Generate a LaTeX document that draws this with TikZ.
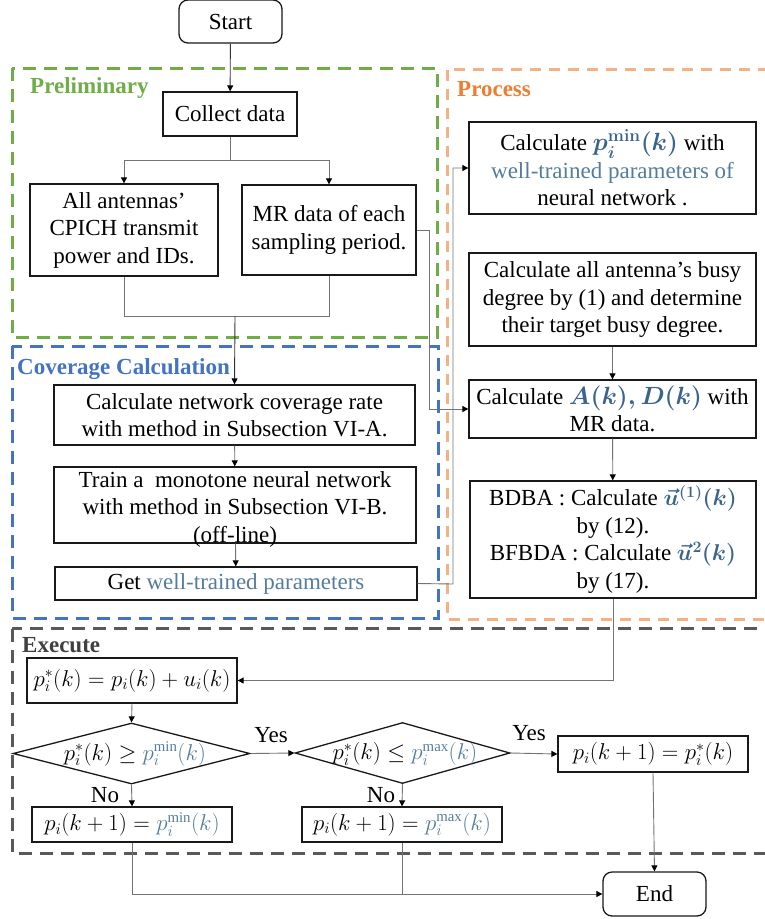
\documentclass[tikz,border=0pt]{standalone}
\usepackage{amsmath,amssymb}
\usepackage{graphicx}
\usepackage{fontspec}
\setmainfont{Liberation Serif}
\usepackage{bm}
\usetikzlibrary{arrows.meta,shapes.geometric,calc}
\definecolor{cgreen}{RGB}{112,173,71}
\definecolor{cblue}{RGB}{68,114,196}
\definecolor{corange}{RGB}{244,177,131}
\definecolor{corangetxt}{RGB}{237,125,49}
\definecolor{cgray}{RGB}{89,89,89}
\definecolor{cexec}{RGB}{64,64,64}
\definecolor{acc}{RGB}{84,124,156}
\definecolor{accb}{RGB}{58,100,138}
\definecolor{lnc}{RGB}{115,115,115}
\newcommand\mainsz{\fontsize{23}{27.5}\selectfont}
\newcommand\mth[1]{\scalebox{0.92}{$#1$}}
\begin{document}
\begin{tikzpicture}[x=1pt,y=-1pt,
  box/.style={draw=black!90, line width=1.3pt, inner sep=0pt, align=center, font=\mainsz},
  rbox/.style={box, rounded corners=9pt},
  dia/.style={draw=black!90, line width=1.3pt, shape=diamond, inner sep=0pt},
  txt/.style={inner sep=0pt, align=center, font=\mainsz},
  region/.style={line width=3pt, dash pattern=on 13pt off 8pt},
  regtitle/.style={inner sep=0pt, anchor=west, font=\mainsz\bfseries},
  conn/.style={draw=lnc, line width=0.9pt},
  arr/.style={conn, -{Triangle[length=6pt,width=6pt,color=black]}}]
\useasboundingbox (0,0) rectangle (764,919);

% regions
\draw[region, cgreen] (12,68) rectangle (437.5,337);
\draw[region, cblue] (12,346) rectangle (438,618);
\draw[region, corange, dash pattern=on 11pt off 8pt] (447,69.5) rectangle (790,619);
\draw[region, cgray] (12,628.5) rectangle (790,853);
\node[regtitle, text=cgreen] (tprel) at (30,88) {Preliminary};
\node[regtitle, text=cblue] (tcov) at (17,369) {Coverage Calculation};
\node[regtitle, text=corangetxt] (tproc) at (457,89) {Process};
\node[regtitle, text=cexec] (texec) at (22,645) {Execute};

% nodes
\node[rbox, minimum width=103pt, minimum height=43pt] (start) at (230.5,21.5) {Start};
\node[box, minimum width=134pt, minimum height=44pt] (collect) at (230,114) {Collect data};
\node[box, minimum width=188pt, minimum height=92pt] (ant) at (124,230) {All antennas’\\CPICH transmit\\power and IDs.};
\node[box, minimum width=174pt, minimum height=90pt] (mr) at (329,230) {MR data of each\\sampling period.};
\node[box, minimum width=361pt, minimum height=60pt] (cov) at (234.5,415) {Calculate network coverage rate\\with method in Subsection VI-A.};
\node[box, minimum width=362pt, minimum height=76pt] (train) at (235,505) {};
\node[txt] (traint) at (235,509) {Train a~ monotone neural network\\with method in Subsection VI-B.\\(off-line)};
\node[box, minimum width=362pt, minimum height=33pt] (get) at (236,583.5) {Get {\color{acc}well-trained parameters}};

\node[box, minimum width=287pt, minimum height=92pt] (pmin) at (612.5,168) {Calculate {\color{accb}\boldmath$p_i^{\mathbf{min}}(k)$} with\\{\color{acc}well-trained parameters of}\\neural network .};
\node[box, minimum width=287pt, minimum height=93pt] (busy) at (612.5,299.5) {Calculate all antenna’s busy\\degree by (1) and determine\\their target busy degree.};
\node[box, minimum width=287pt, minimum height=58pt] (ad) at (612.5,409) {Calculate {\color{accb}\boldmath$A(k),D(k)$} with\\MR data.};
\node[box, minimum width=286pt, minimum height=117pt] (bdba) at (613,539.5) {BDBA : Calculate\ {\color{accb}\boldmath\mth{\vec{u}^{(1)}(k)}}\\by (12).\\BFBDA : Calculate {\color{accb}\boldmath\mth{\vec{u}^{2}(k)}}\\by (17).};

\node[box, minimum width=210pt, minimum height=45pt] (pstar) at (132,680.5) {\mth{p_i^*(k)=p_i(k)+u_i(k)}};
\node[dia, minimum width=237pt, minimum height=61pt] (d1) at (131.5,753.5) {};
\node[txt] (d1t) at (135,754) {\mth{p_i^*(k)\geq{\color{acc}p_i^{\min}(k)}}};
\node[dia, minimum width=215pt, minimum height=61pt] (d2) at (402.5,753) {};
\node[txt] (d2t) at (405,754) {\mth{p_i^*(k)\leq{\color{acc}p_i^{\max}(k)}}};
\node[box, minimum width=200pt, minimum height=35pt] (minb) at (132,824.5) {\mth{p_i(k+1)={\color{acc}p_i^{\min}(k)}}};
\node[box, minimum width=200pt, minimum height=35pt] (maxb) at (402,824.5) {\mth{p_i(k+1)={\color{acc}p_i^{\max}(k)}}};
\node[box, minimum width=190pt, minimum height=36pt] (eqb) at (653,754) {\mth{p_i(k+1)=p_i^*(k)}};
\node[rbox, minimum width=103pt, minimum height=44pt] (end) at (654.5,894) {End};

\node[txt] (yes1) at (271,735) {Yes};
\node[txt] (yes2) at (529,733) {Yes};
\node[txt] (no1) at (105,795) {No};
\node[txt] (no2) at (381,795) {No};

% connectors
\coordinate (split) at (230,160);
\coordinate (join) at (235,316);
\coordinate (c1) at (429,230);
\coordinate (c2) at (453,584);
\coordinate (c3) at (402,894);

\draw[arr, draw=black!80] (start) -- (collect);
\draw[conn] (collect.south) -- (split);
\draw[arr] (split) -| (ant.north);
\draw[arr] (split) -| (mr.north);
\draw[conn] (ant.south) |- (join);
\draw[conn] (mr.south) |- (join);
\draw[arr, draw=black!80] (join) -- (cov.north);
\draw[arr] (mr.east) -- (c1) |- (ad.west);
\draw[arr] (cov) -- (train);
\draw[arr] (train) -- (get);
\draw[arr] (get.east) -- (c2) |- (pmin.west);
\draw[arr] (busy) -- (ad);
\draw[arr] (ad) -- (bdba);
\draw[arr] (bdba.south) |- (pstar.east);
\draw[arr] (pstar.south) -- (d1.north);
\draw[arr] (d1.east) -- (d2.west);
\draw[arr] (d2.east) -- (eqb.west);
\draw[arr] (d1.south) -- (minb.north);
\draw[arr] (d2.south) -- (maxb.north);
\draw[arr] (minb.south) |- (end.west);
\draw[conn] (maxb.south) -- (c3);
\draw[arr] (eqb.south) -- (end.north);
\end{tikzpicture}
\end{document}
